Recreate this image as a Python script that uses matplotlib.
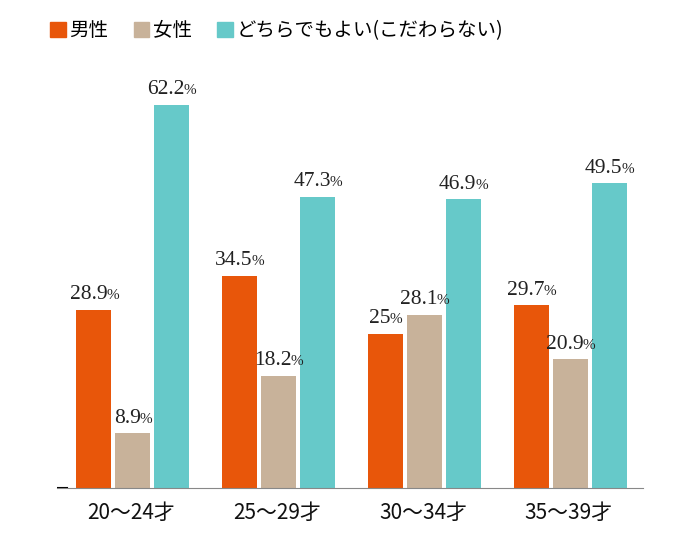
import numpy as np
import matplotlib.pyplot as plt
from matplotlib.patches import Patch

plt.rcParams['font.family'] = ['Noto Sans CJK JP', 'DejaVu Sans']

ages = ['20～24才', '25～29才', '30～34才', '35～39才']
series = ['男性', '女性', 'どちらでもよい(こだわらない)']
male = [28.9, 34.5, 25, 29.7]
female = [8.9, 18.2, 28.1, 20.9]
either = [62.2, 47.3, 46.9, 49.5]
labels_male = ['28.9', '34.5', '25', '29.7']
labels_female = ['8.9', '18.2', '28.1', '20.9']
labels_either = ['62.2', '47.3', '46.9', '49.5']
colors = ['#E8560A', '#C8B29A', '#66C9C9']

fig = plt.figure(figsize=(6.8, 5.52), dpi=100)
ax = fig.add_axes([57 / 680, 64 / 552, 586 / 680, 428 / 552])

x = np.arange(len(ages))
w = 0.24
step = 0.267
texts = []
for i, (vals, labs) in enumerate([(male, labels_male), (female, labels_female), (either, labels_either)]):
    pos = x + (i - 1) * step + 0.01
    ax.bar(pos, vals, width=w, color=colors[i])
    for p, v, s in zip(pos, vals, labs):
        t = ax.annotate(s, (p, v), xytext=(-4, 4), textcoords='offset points',
                        ha='center', va='bottom', fontsize=15.5,
                        family='Liberation Serif', color='#222222')
        texts.append(t)

ax.set_xlim(-0.51, 3.51)
ax.set_ylim(0, 69.5)
for s in ['top', 'right', 'left']:
    ax.spines[s].set_visible(False)
ax.spines['bottom'].set_color('#888888')
ax.axhline(0, 0, 0.017, color='black', lw=1.5)
ax.set_yticks([])
ax.set_xticks(x)
ax.set_xticklabels(ages, fontsize=15, color='#111111')
ax.tick_params(axis='x', length=0, pad=10)

# smaller percent sign after each number
fig.canvas.draw()
r = fig.canvas.get_renderer()
for t in texts:
    bb = t.get_window_extent(r)
    fig.text((bb.x1 - 1) / fig.dpi / 6.8, (bb.y0 + 2) / fig.dpi / 5.52, '%',
             fontsize=11, family='Liberation Serif', color='#222222',
             ha='left', va='bottom')

handles = [Patch(color=c) for c in colors]
fig.legend(handles, series, ncol=3, loc='upper left', bbox_to_anchor=(50 / 680, 1 - 20 / 552),
           frameon=False, fontsize=14, handlelength=0.8, handleheight=0.8,
           handletextpad=0.2, columnspacing=1.3, borderpad=0, borderaxespad=0)

fig.savefig('out.png', dpi=100)
